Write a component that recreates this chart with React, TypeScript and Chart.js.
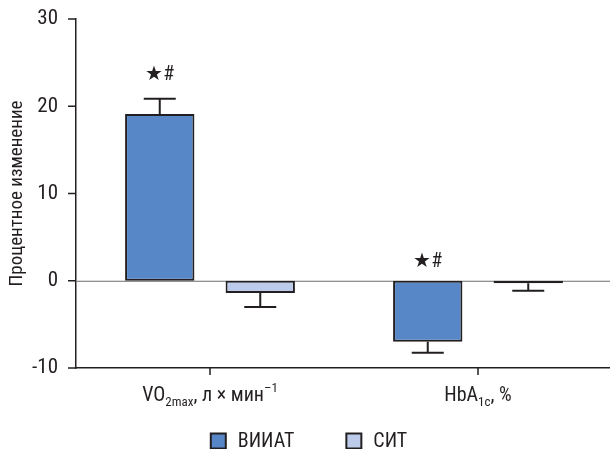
import React, { useEffect, useRef } from 'react';
import { Chart, registerables } from 'chart.js';

Chart.register(...registerables);

const categories = ['VO2max, л × мин–1', 'HbA1c, %'];
const categoryLabelParts: [string, string][][] = [
  [['VO', 'n'], ['2max', 'sub'], [', л × мин', 'n'], ['–1', 'sup']],
  [['HbA', 'n'], ['1c', 'sub'], [', %', 'n']],
];
const seriesNames = ['ВИИАТ', 'СИТ'];
const viiatValues = [19.1, -7.0];
const sitValues = [-1.4, -0.3];
const viiatErrors = [1.75, 1.25];
const sitErrors = [1.6, 0.85];
const significanceMarks = ['★#', '★#'];
const significanceMarkValues = [23.6, 2.2];
const yTicks = [-10, 0, 10, 20, 30];
const yAxisTitle = 'Процентное изменение';

const FONT = '"Liberation Sans Narrow", "Roboto Condensed", "Arial Narrow", Roboto, sans-serif';
const INK = '#231f20';
const COLORS = ['#5787c6', '#bccbe9'];

const customPlugin = {
  id: 'customDraw',
  beforeDatasetsDraw(chart: any) {
    const { ctx, chartArea, scales } = chart;
    const y0 = scales.y.getPixelForValue(0);
    ctx.save();
    ctx.strokeStyle = '#6d6e71';
    ctx.lineWidth = 1;
    ctx.beginPath();
    ctx.moveTo(chartArea.left, y0 + 0.5);
    ctx.lineTo(chartArea.right, y0 + 0.5);
    ctx.stroke();
    ctx.restore();
  },
  afterDatasetsDraw(chart: any) {
    const { ctx, scales } = chart;
    const ys = scales.y;
    ctx.save();
    ctx.strokeStyle = INK;
    ctx.lineWidth = 2;
    chart.data.datasets.forEach((ds: any, di: number) => {
      const meta = chart.getDatasetMeta(di);
      meta.data.forEach((el: any, i: number) => {
        const v = ds.data[i];
        const e = ds.errors[i];
        const end = ys.getPixelForValue(v + (v >= 0 ? e : -e));
        ctx.beginPath();
        ctx.moveTo(el.x, el.y);
        ctx.lineTo(el.x, end);
        ctx.moveTo(el.x - 16, end);
        ctx.lineTo(el.x + 16, end);
        ctx.stroke();
      });
    });
    const meta0 = chart.getDatasetMeta(0);
    ctx.fillStyle = INK;
    ctx.font = `20px ${FONT}`;
    ctx.textAlign = 'center';
    ctx.textBaseline = 'middle';
    meta0.data.forEach((el: any, i: number) => {
      ctx.fillText(significanceMarks[i], el.x, ys.getPixelForValue(significanceMarkValues[i]));
    });
    ctx.restore();
  },
  afterDraw(chart: any) {
    const { ctx, scales, chartArea } = chart;
    const xs = scales.x;
    const ys = scales.y;
    ctx.save();
    ctx.strokeStyle = INK;
    ctx.lineWidth = 1.5;
    ctx.beginPath();
    yTicks.forEach((v) => {
      const py = ys.getPixelForValue(v);
      ctx.moveTo(chartArea.left - 8, py);
      ctx.lineTo(chartArea.left, py);
    });
    categories.forEach((_, i) => {
      const px = xs.getPixelForTick(i);
      ctx.moveTo(px, chartArea.bottom);
      ctx.lineTo(px, chartArea.bottom + 7);
    });
    ctx.stroke();

    ctx.fillStyle = INK;
    ctx.textBaseline = 'alphabetic';
    ctx.textAlign = 'left';
    const baseY = 401;
    categoryLabelParts.forEach((parts, i) => {
      const fontFor = (s: string) => (s === 'n' ? `20px ${FONT}` : `13px ${FONT}`);
      let total = 0;
      parts.forEach(([t, s]) => {
        ctx.font = fontFor(s);
        total += ctx.measureText(t).width;
      });
      let x = xs.getPixelForTick(i) - total / 2;
      parts.forEach(([t, s]) => {
        ctx.font = fontFor(s);
        const dy = s === 'sub' ? 5 : s === 'sup' ? -9 : 0;
        ctx.fillText(t, x, baseY + dy);
        x += ctx.measureText(t).width;
      });
    });
    const legendY = 441;
    ctx.font = `20px ${FONT}`;
    ctx.textBaseline = 'middle';
    const box = 15;
    const gapBoxText = 12;
    const gapItems = 52;
    let totalW = 0;
    seriesNames.forEach((n, i) => {
      totalW += box + gapBoxText + ctx.measureText(n).width + (i < seriesNames.length - 1 ? gapItems : 0);
    });
    let lx = 309 - totalW / 2;
    seriesNames.forEach((n, i) => {
      ctx.fillStyle = COLORS[i];
      ctx.fillRect(lx, legendY - box / 2, box, box);
      ctx.strokeStyle = INK;
      ctx.lineWidth = 2;
      ctx.strokeRect(lx, legendY - box / 2, box, box);
      ctx.fillStyle = INK;
      ctx.fillText(n, lx + box + gapBoxText, legendY + 1);
      lx += box + gapBoxText + ctx.measureText(n).width + gapItems;
    });
    ctx.restore();
  },
};

export default function App() {
  const ref = useRef<HTMLCanvasElement>(null);
  useEffect(() => {
    if (!ref.current) return;
    const chart = new Chart(ref.current, {
      type: 'bar',
      data: {
        labels: categories,
        datasets: [
          {
            label: seriesNames[0],
            data: viiatValues,
            errors: viiatErrors,
            backgroundColor: COLORS[0],
            borderColor: INK,
            borderWidth: 2,
            borderSkipped: false,
            categoryPercentage: 0.75,
            barPercentage: 0.69,
          } as any,
          {
            label: seriesNames[1],
            data: sitValues,
            errors: sitErrors,
            backgroundColor: COLORS[1],
            borderColor: INK,
            borderWidth: 2,
            borderSkipped: false,
            categoryPercentage: 0.75,
            barPercentage: 0.69,
          } as any,
        ],
      },
      options: {
        responsive: false,
        animation: false,
        layout: { padding: { top: 19, right: 8, left: 0, bottom: 0 } },
        plugins: { legend: { display: false }, tooltip: { enabled: false } },
        scales: {
          x: {
            offset: true,
            grid: { display: false },
            border: { color: INK, width: 1.5 },
            ticks: { callback: () => '' },
            afterFit: (s: any) => { s.height = 81; s.paddingLeft = 0; s.paddingRight = 0; },
          },
          y: {
            min: -10,
            max: 30,
            afterBuildTicks: (s: any) => { s.ticks = yTicks.map((v) => ({ value: v })); },
            grid: { display: false },
            border: { color: INK, width: 1.5 },
            ticks: { font: { family: FONT, size: 21 }, color: INK, padding: 10 },
            title: { display: true, text: yAxisTitle, font: { family: FONT, size: 19 }, color: INK, padding: { top: 6, bottom: 0 } },
            afterFit: (s: any) => { s.width = 76; s.paddingTop = 0; s.paddingBottom = 0; },
          },
        },
      },
      plugins: [customPlugin],
    } as any);
    return () => chart.destroy();
  }, []);
  return (
    <div style={{ position: 'fixed', left: 0, top: 0, width: 610, height: 449, overflow: 'hidden', background: '#fff' }}>
      <canvas ref={ref} width={620} height={449} />
    </div>
  );
}
